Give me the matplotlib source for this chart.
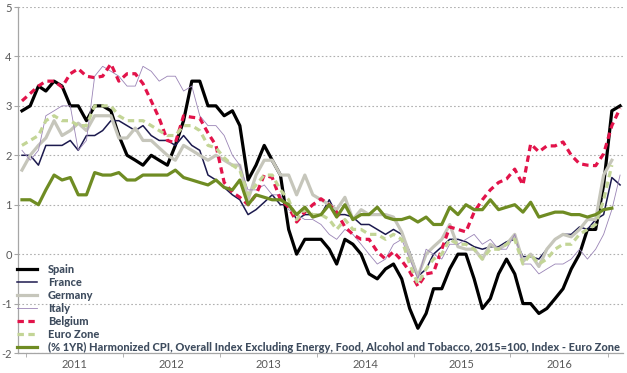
import numpy as np
import pandas as pd
import matplotlib
matplotlib.use("Agg")
import matplotlib.pyplot as plt

plt.rcParams["axes.unicode_minus"] = False

# monthly, Dec 2010 .. Feb 2017
months = pd.date_range("2010-12-01", "2017-02-01", freq="MS")

spain = [2.9,
         3.0, 3.4, 3.3, 3.5, 3.4, 3.0, 3.0, 2.7, 3.0, 3.0, 2.9, 2.4,
         2.0, 1.9, 1.8, 2.0, 1.9, 1.8, 2.2, 2.7, 3.5, 3.5, 3.0, 3.0,
         2.8, 2.9, 2.6, 1.5, 1.8, 2.2, 1.9, 1.6, 0.5, 0.0, 0.3, 0.3,
         0.3, 0.1, -0.2, 0.3, 0.2, 0.0, -0.4, -0.5, -0.3, -0.2, -0.5, -1.1,
         -1.5, -1.2, -0.7, -0.7, -0.3, 0.0, 0.0, -0.5, -1.1, -0.9, -0.4, -0.1,
         -0.4, -1.0, -1.0, -1.2, -1.1, -0.9, -0.7, -0.3, 0.0, 0.5, 0.5, 1.4,
         2.9, 3.0]

france = [2.0,
          2.0, 1.8, 2.2, 2.2, 2.2, 2.3, 2.1, 2.4, 2.4, 2.5, 2.7, 2.7,
          2.6, 2.5, 2.6, 2.4, 2.3, 2.3, 2.2, 2.4, 2.2, 2.1, 1.6, 1.5,
          1.35, 1.2, 1.1, 0.8, 0.9, 1.05, 1.2, 1.0, 1.0, 0.7, 0.8, 0.8,
          0.8, 1.1, 0.8, 0.8, 0.75, 0.6, 0.6, 0.5, 0.4, 0.5, 0.4, 0.05,
          -0.45, -0.3, 0.0, 0.15, 0.3, 0.3, 0.25, 0.15, 0.1, 0.15, 0.15, 0.25,
          0.3, -0.05, -0.05, -0.1, 0.1, 0.3, 0.4, 0.4, 0.55, 0.5, 0.7, 0.8,
          1.55, 1.4]

germany = [1.7,
           2.0, 2.2, 2.35, 2.7, 2.4, 2.5, 2.65, 2.5, 2.8, 2.8, 2.8, 2.35,
           2.35, 2.55, 2.3, 2.3, 2.15, 2.0, 1.9, 2.2, 2.1, 2.0, 1.9, 2.0,
           1.9, 1.8, 1.8, 1.1, 1.6, 1.9, 1.9, 1.6, 1.6, 1.2, 1.6, 1.2,
           1.1, 1.0, 0.9, 1.15, 0.7, 0.9, 0.8, 0.8, 0.8, 0.75, 0.45, 0.0,
           -0.45, 0.0, 0.15, 0.3, 0.6, 0.15, 0.1, 0.1, -0.1, 0.2, 0.1, 0.2,
           0.4, -0.15, 0.0, -0.25, 0.1, 0.3, 0.4, 0.35, 0.5, 0.7, 0.7, 1.6,
           1.9]

italy = [2.1,
         1.9, 2.1, 2.8, 2.9, 3.0, 3.0, 2.1, 2.3, 3.6, 3.8, 3.7, 3.6,
         3.4, 3.4, 3.8, 3.7, 3.5, 3.6, 3.6, 3.3, 3.4, 2.8, 2.6, 2.6,
         2.4, 2.0, 1.8, 1.3, 1.3, 1.4, 1.2, 1.2, 0.9, 0.8, 0.7, 0.7,
         0.6, 0.4, 0.3, 0.5, 0.4, 0.2, 0.0, -0.2, -0.1, 0.2, 0.3, -0.1,
         -0.5, 0.1, 0.0, -0.1, 0.2, 0.2, 0.3, 0.4, 0.2, 0.3, 0.1, 0.1,
         0.4, -0.2, -0.2, -0.4, -0.3, -0.2, -0.2, -0.1, 0.1, -0.1, 0.1, 0.4,
         0.9, 1.6]

belgium = [3.1,
           3.25, 3.4, 3.5, 3.5, 3.38, 3.65, 3.75, 3.6, 3.57, 3.6, 3.85, 3.5,
           3.65, 3.65, 3.45, 3.1, 2.75, 2.3, 2.25, 2.8, 2.77, 2.75, 2.45, 2.2,
           1.45, 1.25, 1.15, 1.0, 1.2, 1.6, 1.55, 1.1, 0.95, 0.65, 0.85, 1.0,
           1.12, 1.0, 0.85, 0.55, 0.4, 0.3, 0.3, 0.05, -0.1, 0.05, -0.13, -0.35,
           -0.65, -0.4, -0.37, 0.1, 0.55, 0.5, 0.45, 0.85, 1.1, 1.3, 1.45, 1.52,
           1.72, 1.4, 2.23, 2.07, 2.19, 2.19, 2.27, 2.0, 1.83, 1.8, 1.79, 2.03,
           2.6, 2.95]

euro_zone = [2.2,
             2.3, 2.4, 2.7, 2.8, 2.7, 2.7, 2.6, 2.6, 3.0, 3.0, 3.0, 2.8,
             2.7, 2.7, 2.7, 2.6, 2.5, 2.4, 2.4, 2.6, 2.6, 2.5, 2.2, 2.15,
             1.95, 1.8, 1.7, 1.2, 1.4, 1.6, 1.6, 1.3, 1.1, 0.7, 0.9, 0.8,
             0.8, 0.7, 0.5, 0.7, 0.5, 0.5, 0.4, 0.4, 0.3, 0.4, 0.3, -0.2,
             -0.6, -0.3, -0.1, 0.0, 0.3, 0.2, 0.2, 0.1, -0.1, 0.1, 0.1, 0.2,
             0.3, -0.2, 0.0, -0.2, -0.1, 0.1, 0.2, 0.2, 0.4, 0.5, 0.6, 1.1,
             1.8]

core = [1.1,
        1.1, 1.0, 1.3, 1.6, 1.5, 1.55, 1.2, 1.2, 1.65, 1.6, 1.6, 1.65,
        1.5, 1.5, 1.6, 1.6, 1.6, 1.6, 1.7, 1.55, 1.5, 1.45, 1.4, 1.5,
        1.35, 1.3, 1.5, 1.0, 1.2, 1.15, 1.1, 1.1, 1.0, 0.8, 0.95, 0.75,
        0.8, 1.0, 0.75, 1.0, 0.7, 0.8, 0.8, 0.95, 0.75, 0.7, 0.7, 0.75,
        0.65, 0.75, 0.6, 0.6, 0.95, 0.8, 1.0, 0.9, 0.9, 1.1, 0.9, 0.95,
        1.0, 0.85, 1.05, 0.75, 0.8, 0.85, 0.85, 0.8, 0.8, 0.75, 0.8, 0.9,
        0.93]

core_label = ("(% 1YR) Harmonized CPI, Overall Index Excluding Energy, Food, "
              "Alcohol and Tobacco, 2015=100, Index - Euro Zone")

series = [
    ("Spain", spain, dict(color="black", lw=2.3)),
    ("France", france, dict(color="#1c1a4e", lw=1.1)),
    ("Germany", germany, dict(color="#c6c6bb", lw=2.3)),
    ("Italy", italy, dict(color="#9a84b6", lw=0.6)),
    ("Belgium", belgium, dict(color="#e2134a", lw=2.3, dashes=(2, 1.4))),
    ("Euro Zone", euro_zone, dict(color="#c3d596", lw=2.3, dashes=(2, 1.4))),
    (core_label, core, dict(color="#6f8c23", lw=2.3)),
]

text_gray = "#595959"

fig = plt.figure(figsize=(6.27, 3.73), dpi=100)
ax = fig.add_axes([18 / 627, 20 / 373, 605 / 627, 346 / 373])

for name, values, style in series:
    ax.plot(months[:len(values)], values, label=name, **style)

ax.set_ylim(-2, 5)
ax.set_yticks(range(-2, 6))
ax.set_xlim(pd.Timestamp("2010-11-16"), pd.Timestamp("2017-02-12"))

ax.grid(axis="y", color="#b0b0b0", linestyle=(0, (1.5, 2)), linewidth=0.8)
ax.set_axisbelow(True)

for side in ["top", "right"]:
    ax.spines[side].set_visible(False)
for side in ["left", "bottom"]:
    ax.spines[side].set_color("#a6a6a6")
    ax.spines[side].set_linewidth(0.9)

# year labels centred on each year, small ticks at year boundaries
years = range(2011, 2017)
ax.set_xticks([pd.Timestamp(f"{y}-06-16") for y in years])
ax.set_xticklabels([str(y) for y in years])
ax.set_xticks([pd.Timestamp(f"{y}-12-16") for y in range(2010, 2017)], minor=True)
ax.tick_params(axis="x", which="major", length=0, pad=4, labelsize=8,
               labelcolor=text_gray)
ax.tick_params(axis="x", which="minor", length=3, color="#a6a6a6")
ax.tick_params(axis="y", length=3, color="#a6a6a6", pad=1.5, labelsize=8,
               labelcolor=text_gray)
for lbl in ax.get_xticklabels() + ax.get_yticklabels():
    lbl.set_family("Lato")

leg = ax.legend(loc="upper left", bbox_to_anchor=(-1 / 605, 1 - 257 / 346),
                frameon=False, handlelength=1.85, handletextpad=0.95,
                labelspacing=0.18, borderpad=0, borderaxespad=0,
                prop=dict(family="Lato", weight="black", size=7.95))
for t in leg.get_texts():
    t.set_color("#3e4c5e")

fig.savefig("out.png", dpi=100)
